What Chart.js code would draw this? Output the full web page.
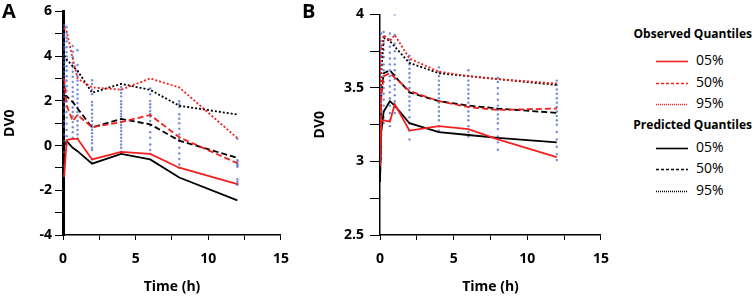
<!DOCTYPE html>
<html>
<head>
<meta charset="utf-8">
<script src="https://cdn.jsdelivr.net/npm/chart.js@4.4.1/dist/chart.umd.min.js"></script>
<style>
  body { margin: 0; background: #fff; width: 754px; height: 297px; overflow: hidden; position: relative; font-family: "Open Sans", sans-serif; }
  .panel { position: absolute; top: 0; }
  .tag { position: absolute; top: -3px; font: bold 20px "Open Sans", sans-serif; color: #000; }
  .legend { position: absolute; left: 620px; top: 0; width: 134px; height: 297px; }
  .head { position: absolute; right: 2px; font: bold 12px "Open Sans", sans-serif; color: #000; white-space: nowrap; }
  .item { position: absolute; left: 37px; font: 14px "Open Sans", sans-serif; color: #000; }
  .item svg { position: absolute; left: -1px; top: 9px; }
  .item span { position: absolute; left: 39px; top: -1px; }
</style>
</head>
<body>
<div class="panel" style="left:0;"><canvas id="chartA" width="300" height="297"></canvas></div>
<div class="panel" style="left:310px;"><canvas id="chartB" width="310" height="297"></canvas></div>
<div class="tag" style="left:2px;">A</div>
<div class="tag" style="left:302px;">B</div>
<div class="legend" id="legend"></div>

<script>
// === Observation times (h) and the quantile lines ===
const timesA = [0.083, 0.25, 0.67, 1, 2, 4, 6, 8, 12];
const timesB = [0, 0.083, 0.25, 0.67, 1, 2, 4, 6, 8, 12];

// Panel A quantiles
const obs05A = [-1.4, 0.25, 0.3, 0.3, -0.62, -0.28, -0.37, -0.99, -1.72];
const obs50A = [3.0, 1.8, 1.1, 1.37, 0.82, 1.05, 1.37, 0.37, -0.79];
const obs95A = [5.3, 5.1, 3.9, 3.0, 2.6, 2.5, 3.0, 2.6, 0.33];
const pred05A = [0.0, 0.2, -0.1, -0.25, -0.81, -0.37, -0.62, -1.43, -2.45];
const pred50A = [2.25, 2.2, 1.95, 1.66, 0.81, 1.19, 0.95, 0.22, -0.55];
const pred95A = [4.03, 3.85, 3.55, 3.35, 2.36, 2.76, 2.49, 1.78, 1.39];

// Panel B quantiles
const obs05B = [2.97, 3.27, 3.28, 3.27, 3.39, 3.21, 3.24, 3.22, 3.15, 3.03];
const obs50B = [2.97, 3.45, 3.58, 3.6, 3.57, 3.48, 3.41, 3.37, 3.35, 3.36];
const obs95B = [2.97, 3.75, 3.86, 3.82, 3.86, 3.7, 3.61, 3.58, 3.56, 3.53];
const pred05B = [2.86, 3.2, 3.34, 3.41, 3.38, 3.26, 3.2, 3.18, 3.16, 3.13];
const pred50B = [2.86, 3.45, 3.6, 3.62, 3.58, 3.47, 3.41, 3.38, 3.36, 3.33];
const pred95B = [2.86, 3.6, 3.84, 3.82, 3.78, 3.67, 3.6, 3.58, 3.56, 3.52];

// === Observed individual values, one list per sampling time ===
const dotTimes = [0.083, 0.25, 0.67, 1, 2, 4, 6, 8, 12];
const dotsA = [
  [5.38, 5.21, 4.97, 4.85, 4.6, 4.42, 4.3, 4.05, 3.9, 3.72, 3.55, 3.3, 3.12, 2.95, 2.7, 2.52, 2.31, 2.18, 1.95, 1.7, 1.42, 1.1, 0.85, 0.5, 0.2, -0.3, -0.9, -1.35],
  [5.3, 5.05, 4.82, 4.66, 4.4, 4.18, 3.98, 3.8, 3.55, 3.36, 3.1, 2.9, 2.65, 2.45, 2.2, 1.98, 1.75, 1.5, 1.25, 0.98, 0.7, 0.42, 0.15, 0.02],
  [4.45, 4.2, 3.95, 3.7, 3.5, 3.3, 3.08, 2.85, 2.6, 2.4, 2.2, 1.95, 1.7, 1.5, 1.3, 1.05, 0.82, 0.6, 0.35],
  [4.26, 3.6, 3.3, 3.1, 2.9, 2.72, 2.5, 2.3, 2.1, 1.9, 1.7, 1.5, 1.35, 1.1, 0.9, 0.7, 0.5, 0.32],
  [2.92, 2.75, 2.5, 2.3, 1.95, 1.8, 1.6, 1.42, 1.25, 1.1, 0.92, 0.82, 0.7, 0.55, 0.4, 0.25, 0.1, -0.1, -0.2, -0.62, -0.78],
  [2.62, 2.5, 2.35, 2.2, 1.98, 1.85, 1.7, 1.55, 1.42, 1.3, 1.18, 1.05, 0.92, 0.8, 0.65, 0.5, 0.35, 0.2, 0.05, -0.1, -0.28],
  [2.55, 2.3, 2.0, 1.85, 1.7, 1.55, 1.42, 1.3, 1.1, 0.9, 0.6, 0.35, 0.05, -0.2, -0.38],
  [1.98, 1.85, 1.72, 1.4, 1.2, 1.0, 0.75, 0.5, 0.3, 0.2, -0.1, -0.35, -0.6, -0.85, -1.0],
  [0.3, -0.65, -0.72, -0.8, -0.88, -0.95, -1.5, -1.6, -1.7, -1.75],
];
const dotsB = [
  [3.87, 3.82, 3.78, 3.72, 3.66, 3.6, 3.55, 3.5, 3.45, 3.4, 3.35, 3.3, 3.25, 3.18, 3.1, 3.02],
  [3.88, 3.85, 3.8, 3.76, 3.71, 3.66, 3.62, 3.58, 3.54, 3.5, 3.46, 3.42, 3.38, 3.34, 3.3, 3.26],
  [3.87, 3.83, 3.78, 3.74, 3.7, 3.66, 3.62, 3.58, 3.55, 3.51, 3.47, 3.43, 3.38, 3.33, 3.28, 3.24],
  [4.0, 3.86, 3.8, 3.75, 3.7, 3.66, 3.62, 3.59, 3.56, 3.52, 3.49, 3.45, 3.41, 3.37, 3.33],
  [3.72, 3.69, 3.66, 3.63, 3.6, 3.57, 3.54, 3.5, 3.47, 3.44, 3.41, 3.38, 3.35, 3.3, 3.26, 3.21, 3.15],
  [3.64, 3.61, 3.58, 3.55, 3.52, 3.49, 3.46, 3.43, 3.4, 3.37, 3.34, 3.31, 3.28, 3.24, 3.21],
  [3.62, 3.58, 3.55, 3.52, 3.49, 3.46, 3.43, 3.4, 3.37, 3.34, 3.31, 3.28, 3.24, 3.2, 3.17],
  [3.57, 3.54, 3.5, 3.46, 3.42, 3.38, 3.35, 3.32, 3.29, 3.26, 3.22, 3.17, 3.13, 3.08],
  [3.55, 3.52, 3.49, 3.46, 3.43, 3.4, 3.37, 3.34, 3.31, 3.28, 3.25, 3.2, 3.15, 3.1, 3.05, 3.01],
];

const RED = "#f2201e";
const BLACK = "#000000";
const SOLID = [];
const DASHED = [6, 3];
const DOTTED = [2, 2];

// === Build one quantile line dataset ===
function lineSet(xs, ys, color, dash) {
  return {
    data: xs.map((x, i) => ({ x: x, y: ys[i] })),
    showLine: true,
    borderColor: color,
    borderWidth: 1.8,
    borderDash: dash,
    pointRadius: 0,
    tension: 0,
  };
}

// === Build the scatter of observed values ===
function dotSet(cols) {
  const pts = [];
  cols.forEach((col, i) => col.forEach((v) => pts.push({ x: dotTimes[i], y: v })));
  return {
    data: pts,
    pointRadius: 1.2,
    pointBorderWidth: 0,
    pointBackgroundColor: "rgba(70, 100, 200, 0.75)",
  };
}

const tickFont = { family: "Open Sans", size: 14, weight: "bold" };
const titleFont = { family: "Open Sans", size: 14, weight: "bold" };

function makeChart(id, times, sets, dots, y, yWidth, yTick, axisWidth) {
  const ctx = document.getElementById(id).getContext("2d");
  return new Chart(ctx, {
    type: "scatter",
    data: {
      datasets: [
        lineSet(times, sets[0], RED, SOLID),
        lineSet(times, sets[1], RED, DASHED),
        lineSet(times, sets[2], RED, DOTTED),
        lineSet(times, sets[3], BLACK, SOLID),
        lineSet(times, sets[4], BLACK, DASHED),
        lineSet(times, sets[5], BLACK, DOTTED),
        dotSet(dots),
      ],
    },
    options: {
      responsive: false,
      animation: false,
      layout: { padding: { top: 0, right: 9, bottom: 0, left: 0 } },
      plugins: { legend: { display: false }, tooltip: { enabled: false } },
      scales: {
        x: {
          type: "linear",
          min: 0,
          max: 15,
          afterFit: (s) => { s.height = 62; },
          afterBuildTicks: (s) => { s.ticks = [0, 2.5, 5, 7.5, 10, 12.5, 15].map((v) => ({ value: v })); },
          ticks: {
            autoSkip: false,
            maxRotation: 0,
            padding: 11,
            color: "#000",
            font: tickFont,
            callback: (v) => (v % 5 === 0 ? v : ""),
          },
          grid: { drawOnChartArea: false, tickLength: 5, color: "#000", lineWidth: 1 },
          border: { color: "#000", width: 1.5 },
          title: { display: true, text: "Time (h)", color: "#000", font: titleFont, padding: { top: 4, bottom: 2 } },
        },
        y: {
          min: y.min,
          max: y.max,
          afterFit: (s) => { s.width = yWidth; },
          afterBuildTicks: (s) => { s.ticks = y.ticks.map((v) => ({ value: v })); },
          ticks: {
            autoSkip: false,
            padding: yTick.pad,
            color: "#000",
            font: tickFont,
            callback: (v) => (y.labels.includes(v) ? String(v) : ""),
          },
          grid: { drawOnChartArea: false, tickLength: yTick.len, color: "#000", lineWidth: 1 },
          border: { color: "#000", width: axisWidth },
          title: { display: true, text: "DV0", color: "#000", font: titleFont, padding: { top: 2, bottom: 2 } },
        },
      },
    },
  });
}

// Panel A
makeChart(
  "chartA",
  timesA,
  [obs05A, obs50A, obs95A, pred05A, pred50A, pred95A],
  dotsA,
  { min: -4, max: 6, ticks: [-4, -3, -2, -1, 0, 1, 2, 3, 4, 5, 6], labels: [-4, -2, 0, 2, 4, 6] },
  63,
  { len: 8, pad: 3 },
  3
);

// Panel B
makeChart(
  "chartB",
  timesB,
  [obs05B, obs50B, obs95B, pred05B, pred50B, pred95B],
  dotsB,
  { min: 2.5, max: 4, ticks: [2.5, 2.75, 3, 3.25, 3.5, 3.75, 4], labels: [2.5, 3, 3.5, 4] },
  70,
  { len: 10, pad: 6 },
  1.5
);

// === Grouped legend: observed vs predicted quantiles ===
const legendRows = [
  { head: "Observed Quantiles", y: 25 },
  { label: "05%", color: RED, dash: "", y: 51 },
  { label: "50%", color: RED, dash: "3,2", y: 73 },
  { label: "95%", color: RED, dash: "1,1", y: 94 },
  { head: "Predicted Quantiles", y: 116 },
  { label: "05%", color: BLACK, dash: "", y: 138 },
  { label: "50%", color: BLACK, dash: "3,2", y: 159 },
  { label: "95%", color: BLACK, dash: "1,1", y: 181 },
];
const legend = document.getElementById("legend");
legendRows.forEach((r) => {
  const el = document.createElement("div");
  if (r.head) {
    el.className = "head";
    el.style.top = r.y + "px";
    el.textContent = r.head;
  } else {
    el.className = "item";
    el.style.top = r.y + "px";
    el.innerHTML =
      '<svg width="32" height="3"><line x1="0" y1="1.5" x2="32" y2="1.5" stroke="' + r.color +
      '" stroke-width="1.6" stroke-dasharray="' + r.dash + '"/></svg><span>' + r.label + "</span>";
  }
  legend.appendChild(el);
});
</script>
</body>
</html>
